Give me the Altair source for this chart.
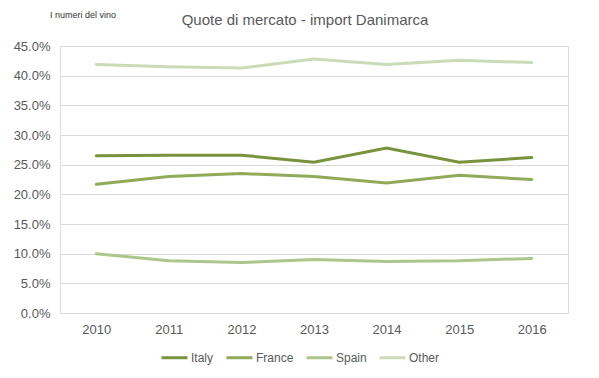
import altair as alt
import pandas as pd

years = ["2010", "2011", "2012", "2013", "2014", "2015", "2016"]
italy = [26.5, 26.6, 26.6, 25.4, 27.8, 25.4, 26.2]
france = [21.7, 23.0, 23.5, 23.0, 21.9, 23.2, 22.5]
spain = [10.0, 8.8, 8.5, 9.0, 8.7, 8.8, 9.2]
other = [41.9, 41.5, 41.3, 42.8, 41.9, 42.6, 42.2]

series = ["Italy", "France", "Spain", "Other"]
colors = ["#77933C", "#8FAB57", "#ADC68B", "#CADBB6"]
title_text = "Quote di mercato - import Danimarca"
logo_text = "I numeri del vino"

rows = []
for name, vals in zip(series, [italy, france, spain, other]):
    for y, v in zip(years, vals):
        rows.append({"Year": y, "Series": name, "Value": v / 100})
df = pd.DataFrame(rows)

font = "Liberation Sans"
grey = "#595959"

lines = alt.Chart(df).mark_line(strokeWidth=3, strokeCap="round").encode(
    x=alt.X("Year:N", sort=years, title=None,
            scale=alt.Scale(paddingInner=0, paddingOuter=0.5),
            axis=alt.Axis(labelAngle=0, ticks=False, domain=False, grid=False,
                          labelFont=font, labelFontSize=13, labelColor=grey,
                          labelPadding=10)),
    y=alt.Y("Value:Q", title=None,
            scale=alt.Scale(domain=[0, 0.45], nice=False),
            axis=alt.Axis(format=".1%", values=[i * 0.05 for i in range(10)],
                          ticks=False, domain=False, gridColor="#D9D9D9",
                          labelFont=font, labelFontSize=13, labelColor=grey,
                          labelPadding=10)),
    color=alt.Color("Series:N", sort=series,
                    scale=alt.Scale(domain=series, range=colors),
                    legend=alt.Legend(title=None, orient="none", direction="horizontal",
                                      legendX=100, legendY=297,
                                      symbolType="stroke", symbolSize=676,
                                      symbolStrokeWidth=3, labelFont=font,
                                      labelFontSize=12, labelColor=grey,
                                      columnPadding=6, labelOffset=2)),
    order=alt.Order("Series:N"),
)

logo = alt.Chart(pd.DataFrame({"t": [logo_text]})).mark_text(
    align="left", baseline="middle", fontSize=9, font=font, color="#333333"
).encode(x=alt.value(-10), y=alt.value(-31), text="t:N")

title = alt.Chart(pd.DataFrame({"t": [title_text]})).mark_text(
    align="center", baseline="alphabetic", fontSize=15, font=font, color=grey
).encode(x=alt.value(245), y=alt.value(-21), text="t:N")

chart = alt.layer(lines, logo, title).properties(
    width=508, height=267,
    autosize=alt.AutoSizeParams(type="none"),
    padding={"left": 52, "top": 38, "right": 23, "bottom": 57},
).configure_view(stroke=None).configure(background="white")

chart.save("out.html", embed_options={"renderer": "svg", "actions": False})
